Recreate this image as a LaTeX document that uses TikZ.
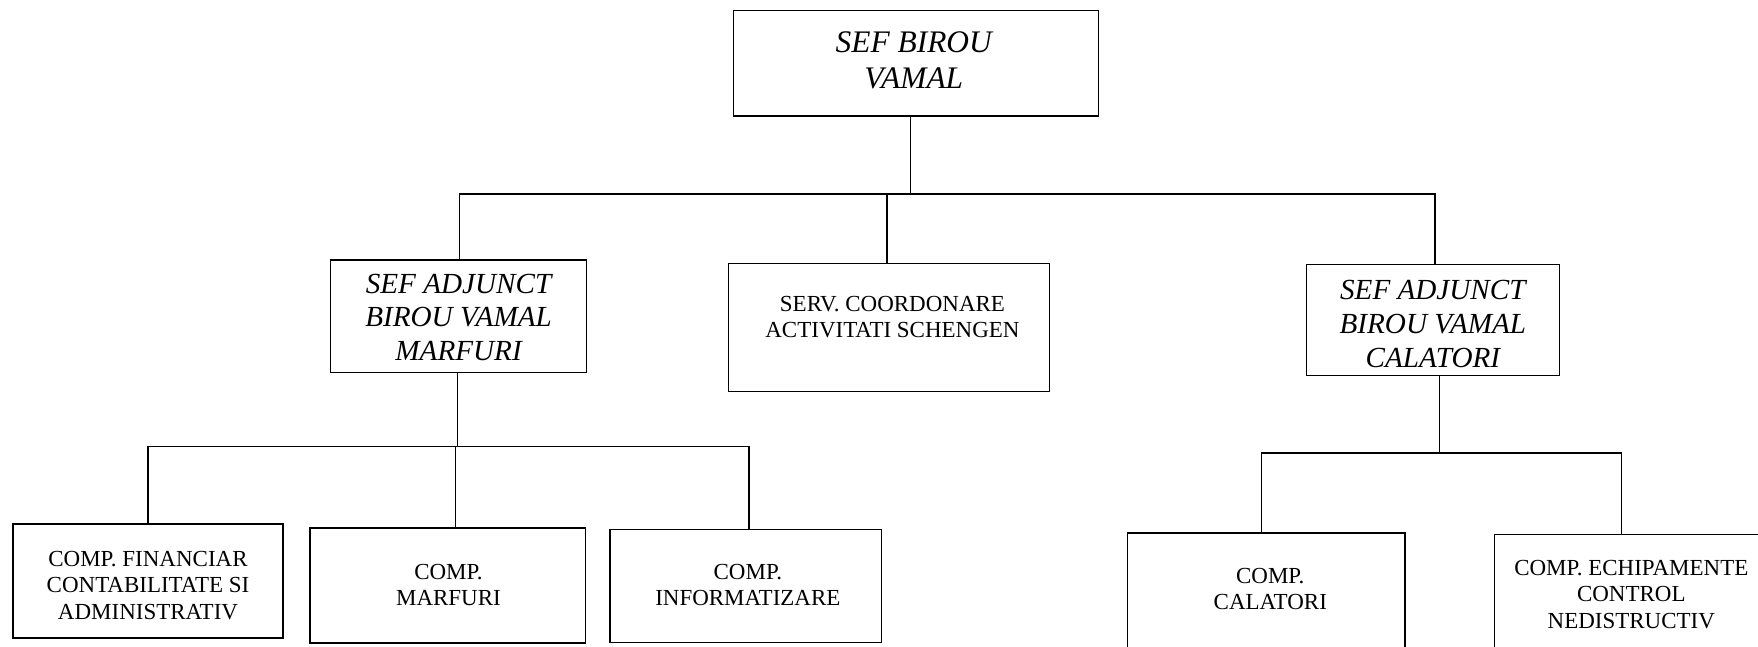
\documentclass[tikz,border=0pt]{standalone}
\usepackage{fontspec}
\setmainfont{Liberation Serif}
\begin{document}
\begin{tikzpicture}[x=1pt,y=-1pt,
  box/.style={draw=black, line width=1.2pt, inner sep=0pt, rectangle},
  conn/.style={draw=black, line width=1.2pt},
  plain/.style={align=center, inner sep=0pt, font=\fontsize{20.5}{23.5}\selectfont},
  ital/.style={align=center, inner sep=0pt, font=\itshape\fontsize{26}{30}\selectfont},
  bigital/.style={align=center, inner sep=0pt, font=\itshape\fontsize{28}{32}\selectfont}]
\fill[white] (0,0) rectangle (1568,576.2);
\useasboundingbox (0,0) rectangle (1568,576.2);
% boxes
\node[box, minimum width=326pt, minimum height=94pt] (top) at (817,56.5) {};
\node[box, minimum width=228pt, minimum height=100pt] (adjL) at (409,282) {};
\node[box, minimum width=286pt, minimum height=114pt] (serv) at (793,292) {};
\node[box, minimum width=226pt, minimum height=99pt] (adjR) at (1278,285.5) {};
\node[box, minimum width=241pt, minimum height=101.5pt] (fin) at (132,518.25) {};
\node[box, minimum width=245.5pt, minimum height=102.5pt] (mar) at (399.25,522.25) {};
\node[box, minimum width=242.5pt, minimum height=101pt] (inf) at (665.25,522.5) {};
\node[box, minimum width=247.5pt, minimum height=164.5pt] (cal) at (1129.25,557.75) {};
\node[box, minimum width=287pt, minimum height=163pt] (ech) at (1476.5,558.5) {};
% texts
\node[bigital] (ttop) at (815,54) {SEF BIROU\\VAMAL};
\node[ital] (tadjL) at (409,283) {SEF ADJUNCT\\BIROU VAMAL\\MARFURI};
\node[ital] (tadjR) at (1278,289) {SEF ADJUNCT\\BIROU VAMAL\\CALATORI};
\node[plain] (tserv) at (796,283) {SERV. COORDONARE\\ACTIVITATI SCHENGEN};
\node[plain] (tfin) at (132,522) {COMP. FINANCIAR\\CONTABILITATE SI\\ADMINISTRATIV};
\node[plain] (tmar) at (400,522) {COMP.\\MARFURI};
\node[plain] (tinf) at (667,522) {COMP.\\INFORMATIZARE};
\node[plain] (tcal) at (1133,525.5) {COMP.\\CALATORI};
\node[plain] (tech) at (1455,530) {COMP. ECHIPAMENTE\\CONTROL\\NEDISTRUCTIV};
% bus coordinates
\coordinate (b0) at (812,173);
\coordinate (bL) at (410,173);
\coordinate (bS) at (791,173);
\coordinate (bR) at (1280,173);
\coordinate (m0) at (408,398);
\coordinate (mF) at (132,398);
\coordinate (mM) at (406,398);
\coordinate (mI) at (668,398);
\coordinate (c0) at (1284,404);
\coordinate (cC) at (1125,404);
\coordinate (cE) at (1446,404);
% connectors
\draw[conn] (top.south -| b0) -- (b0);
\draw[conn] (adjL.north -| bL) -- (bL) -- (bR) -- (adjR.north -| bR);
\draw[conn] (serv.north -| bS) -- (bS);
\draw[conn] (adjL.south -| m0) -- (m0);
\draw[conn] (fin.north -| mF) -- (mF) -- (mI) -- (inf.north -| mI);
\draw[conn] (mar.north -| mM) -- (mM);
\draw[conn] (adjR.south -| c0) -- (c0);
\draw[conn] (cal.north -| cC) -- (cC) -- (cE) -- (ech.north -| cE);
\end{tikzpicture}
\end{document}
